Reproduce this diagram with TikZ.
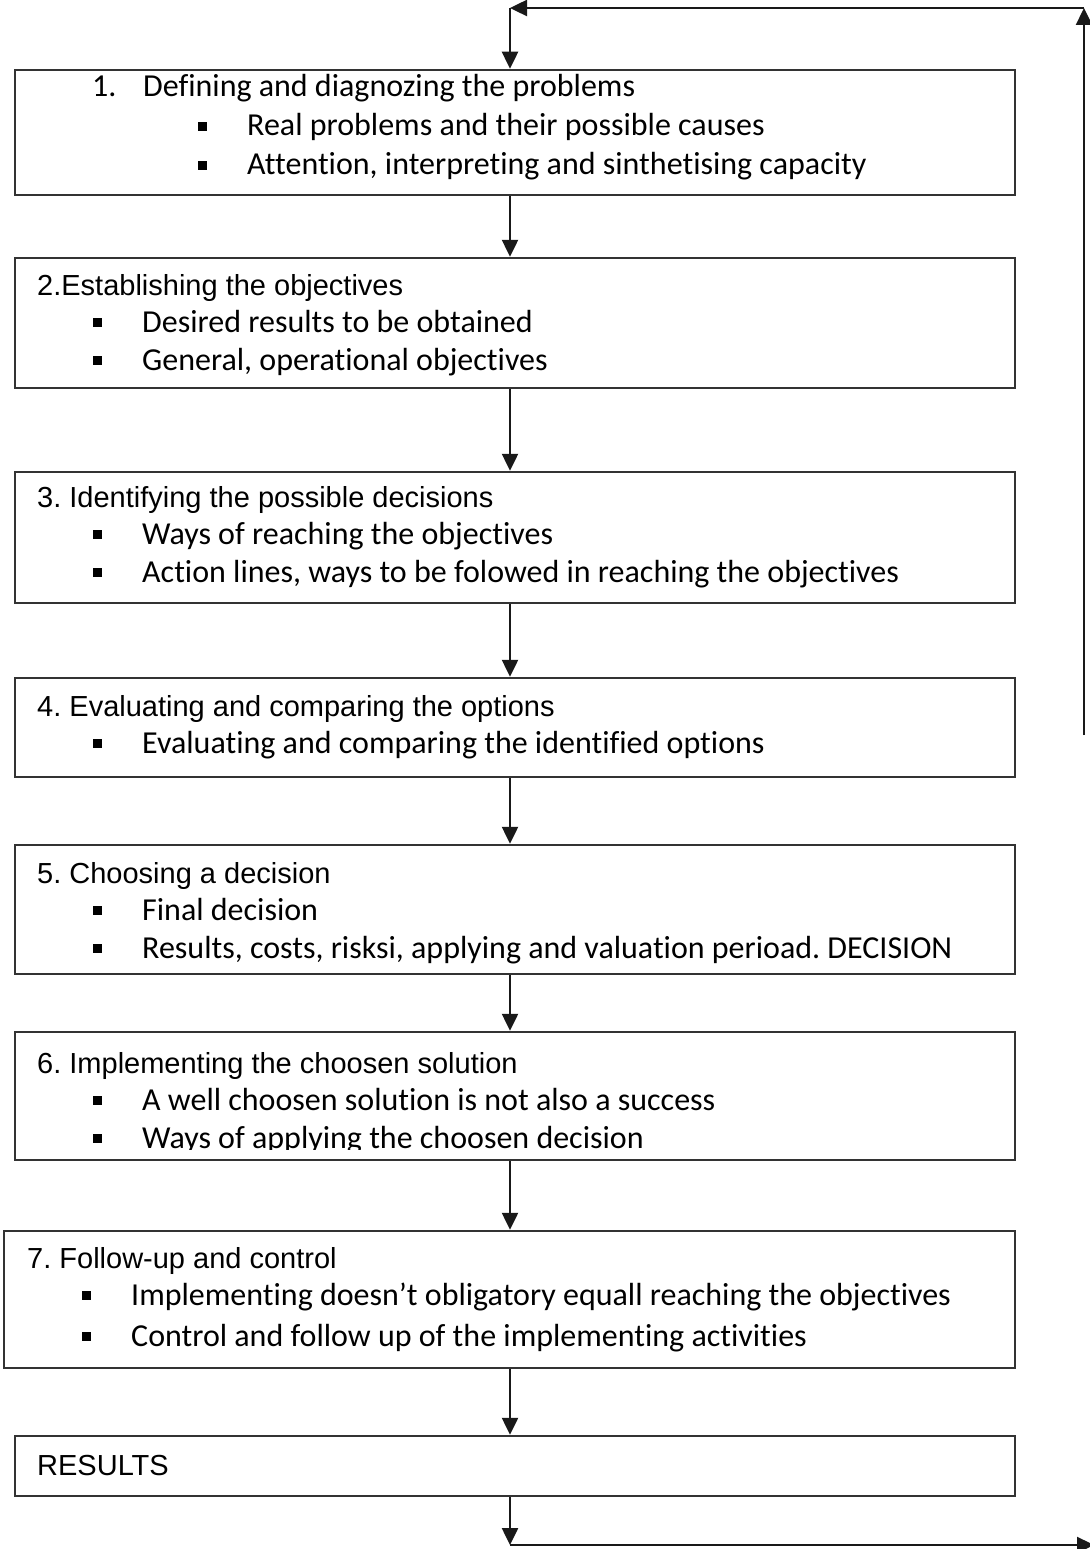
\documentclass[tikz,border=0pt]{standalone}
\usepackage{fontspec}
\setmainfont{Carlito}[Ligatures=CommonOff]
\newfontfamily\arial{Liberation Sans}
\usetikzlibrary{arrows.meta}
\frenchspacing
\tikzset{
  box/.style={draw=black!80, line width=2.5pt, rectangle, inner sep=0pt},
  arr/.style={draw=black!90, line width=2.5pt, -{Triangle[length=17pt,width=16pt]}},
  ttl/.style={anchor=base west, inner sep=0pt, font=\arial\fontsize{29}{34}\selectfont},
  ttlc/.style={anchor=base west, inner sep=0pt, font=\fontsize{32}{38}\selectfont},
  itm/.style={anchor=base west, inner sep=0pt, font=\fontsize{32}{38}\selectfont},
}
\newcommand{\bsq}{\makebox[49pt][l]{\raisebox{5pt}{\rule{9pt}{9pt}}}}
\begin{document}
\begin{tikzpicture}[x=1pt,y=-1pt]
\useasboundingbox (0,0) rectangle (1089,1549);
% boxes
\node[box, minimum width=1000pt, minimum height=125pt] (b1) at (515,132.5) {};
\node[box, minimum width=1000pt, minimum height=130pt] (b2) at (515,323) {};
\node[box, minimum width=1000pt, minimum height=131pt] (b3) at (515,537.5) {};
\node[box, minimum width=1000pt, minimum height=99pt] (b4) at (515,727.5) {};
\node[box, minimum width=1000pt, minimum height=129pt] (b5) at (515,909.5) {};
\node[box, minimum width=1000pt, minimum height=128pt] (b6) at (515,1096) {};
\node[box, minimum width=1011pt, minimum height=137pt] (b7) at (509.5,1299.5) {};
\node[box, minimum width=1000pt, minimum height=60pt] (b8) at (515,1466) {};
% texts
\node[ttlc] (t1) at (92,97) {\makebox[51pt][l]{1.}Defining and diagnozing the problems};
\node[itm] (t1a) at (198,136) {\bsq Real problems and their possible causes};
\node[itm] (t1b) at (198,175) {\bsq Attention, interpreting and sinthetising capacity};
\node[ttl] (t2) at (37,295) {2.Establishing the objectives};
\node[itm] (t2a) at (93,332) {\bsq Desired results to be obtained};
\node[itm] (t2b) at (93,370) {\bsq General, operational objectives};
\node[ttl] (t3) at (37,507) {3. Identifying the possible decisions};
\node[itm] (t3a) at (93,544) {\bsq Ways of reaching the objectives};
\node[itm] (t3b) at (93,582) {\bsq Action lines, ways to be folowed in reaching the objectives};
\node[ttl] (t4) at (37,716) {4. Evaluating and comparing the options};
\node[itm] (t4a) at (93,753) {\bsq Evaluating and comparing the identified options};
\node[ttl] (t5) at (37,883) {5. Choosing a decision};
\node[itm] (t5a) at (93,920) {\bsq Final decision};
\node[itm] (t5b) at (93,958) {\bsq Results, costs, risksi, applying and valuation perioad. DECISION};
\node[ttl] (t6) at (37,1073) {6. Implementing the choosen solution};
\node[itm] (t6a) at (93,1110) {\bsq A well choosen solution is not also a success};
\begin{scope}
\clip (20,1110) rectangle (1000,1149.5);
\node[itm] (t6b) at (93,1148) {\bsq Ways of applying the choosen decision};
\end{scope}
\node[ttl] (t7) at (27,1268) {7. Follow-up and control};
\node[itm] (t7a) at (82,1305) {\bsq Implementing doesn’t obligatory equall reaching the objectives};
\node[itm] (t7b) at (82,1346) {\bsq Control and follow up of the implementing activities};
\node[ttl] (t8) at (37,1475) {RESULTS};
% connectors
\coordinate (ax) at (510,0);
\draw[arr] (b1.south -| ax) -- (b2.north -| ax);
\draw[arr] (b2.south -| ax) -- (b3.north -| ax);
\draw[arr] (b3.south -| ax) -- (b4.north -| ax);
\draw[arr] (b4.south -| ax) -- (b5.north -| ax);
\draw[arr] (b5.south -| ax) -- (b6.north -| ax);
\draw[arr] (b6.south -| ax) -- (b7.north -| ax);
\draw[arr] (b7.south -| ax) -- (b8.north -| ax);
% feedback loop
\coordinate (fbot) at (510,1545);
\coordinate (fbr) at (1094,1545);
\coordinate (rlow) at (1084,735);
\coordinate (rtop) at (1084,8);
\coordinate (ftop) at (510,8);
\draw[arr] (b8.south -| ax) -- (fbot);
\draw[arr] (fbot) -- (fbr);
\draw[arr] (rlow) -- (rtop);
\draw[arr] (rtop) -- (ftop);
\draw[arr] (ftop) -- (b1.north -| ax);
\end{tikzpicture}
\end{document}
